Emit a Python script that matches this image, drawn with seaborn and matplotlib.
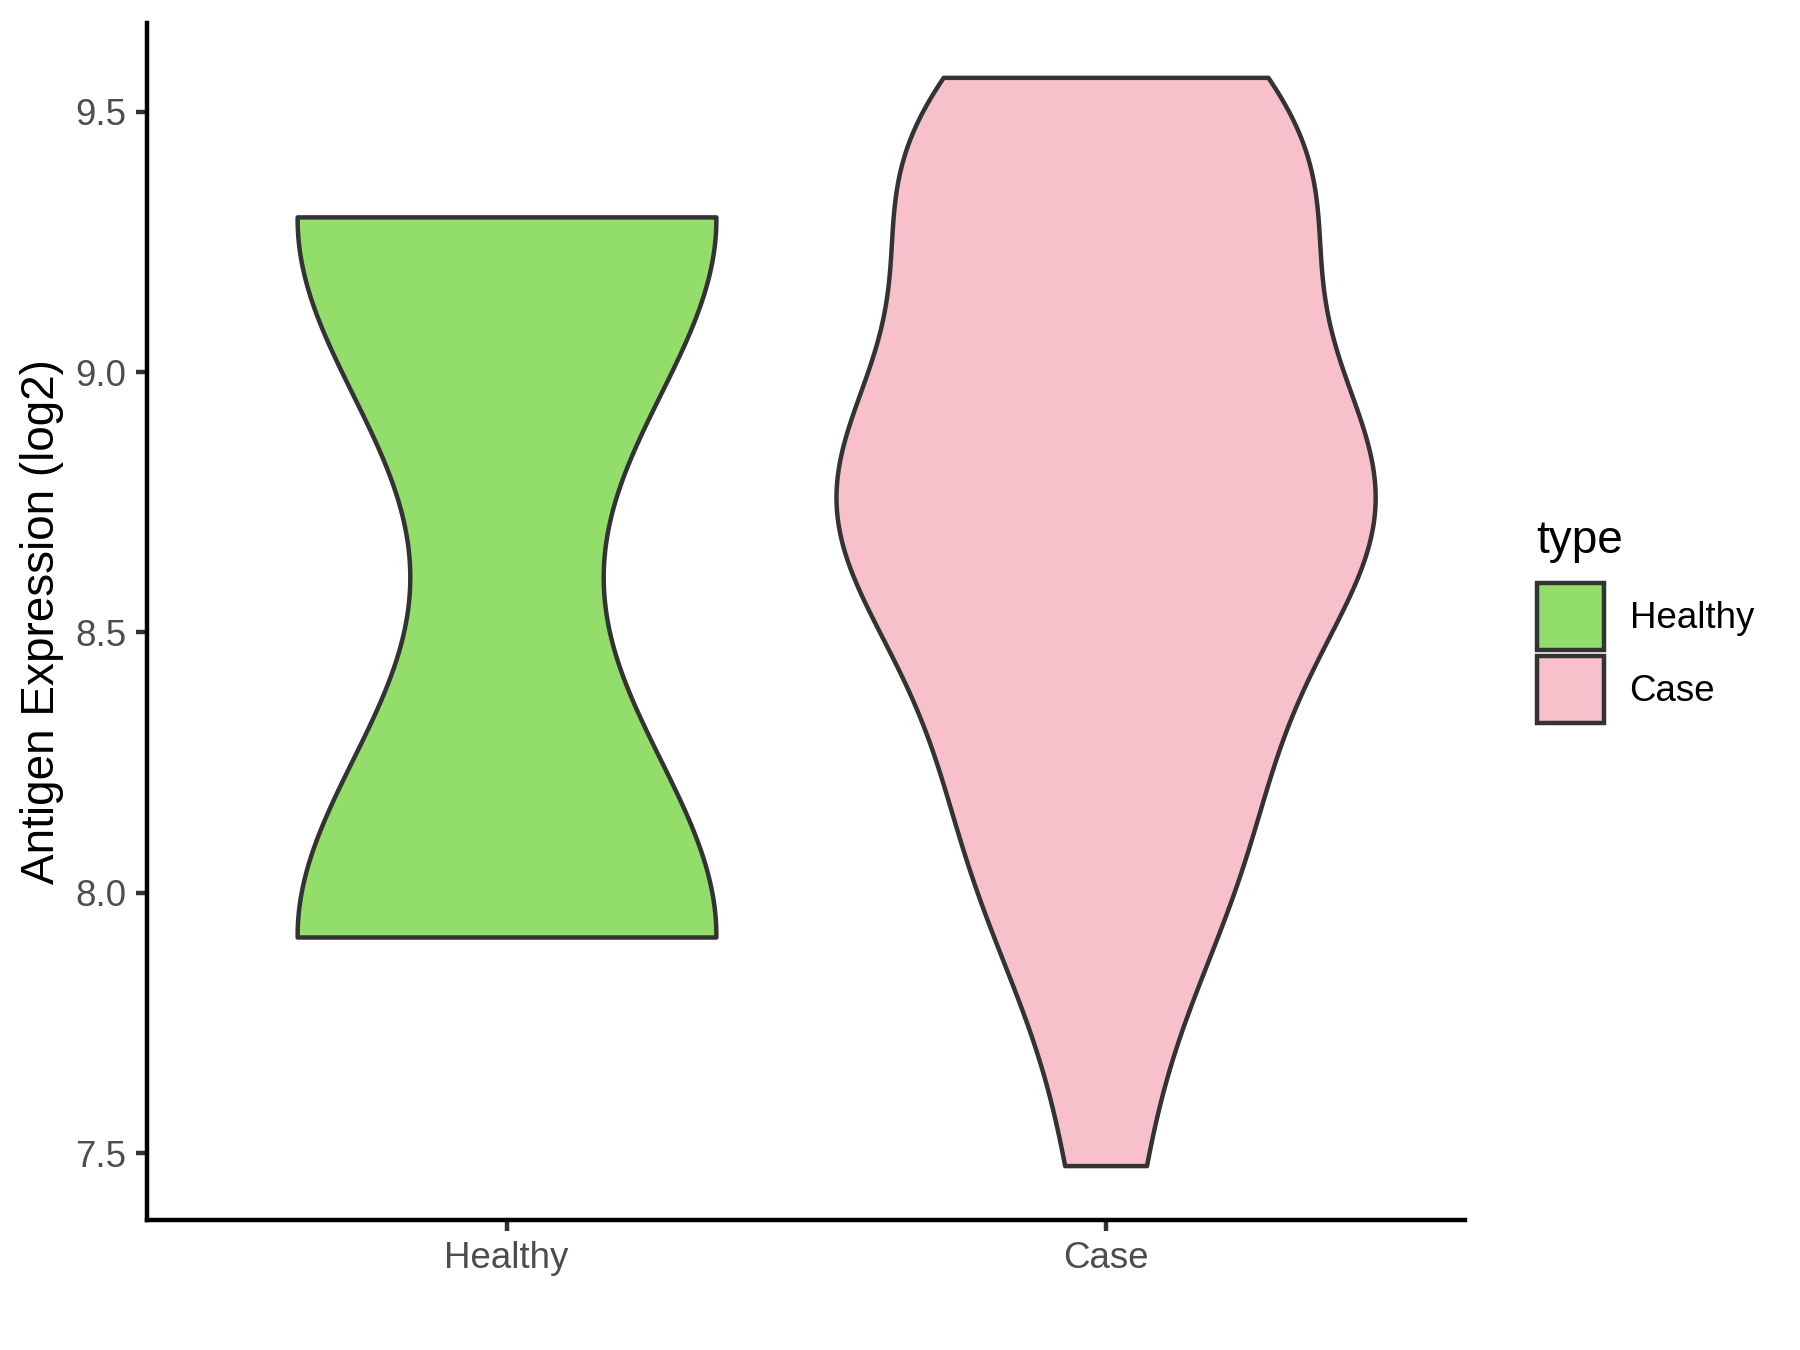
import numpy as np
import pandas as pd
import matplotlib
matplotlib.use("Agg")
import matplotlib.pyplot as plt
from matplotlib.patches import Patch
import seaborn as sns

# values
groups = ["Healthy", "Case"]
healthy_vals = [7.915, 9.298]
case_vals = [7.476, 7.958, 7.979, 8.060, 8.273, 8.283, 8.458, 8.649, 8.668,
             8.724, 8.740, 8.768, 8.792, 8.862, 8.873, 8.928, 9.297, 9.369,
             9.404, 9.407, 9.428, 9.431, 9.566]
palette = {"Healthy": "#93DD6A", "Case": "#F7C0CB"}
yticks = [7.5, 8.0, 8.5, 9.0, 9.5]

df = pd.DataFrame({
    "type": ["Healthy"] * len(healthy_vals) + ["Case"] * len(case_vals),
    "expr": healthy_vals + case_vals,
})


def nrd0(kde):
    # R's bw.nrd0, returned as a factor of the sample sd
    x = np.asarray(kde.dataset).ravel()
    sd = x.std(ddof=1)
    q75, q25 = np.quantile(x, [0.75, 0.25])
    lo = min(sd, (q75 - q25) / 1.34) or sd
    return 0.9 * lo * len(x) ** -0.2 / sd


sns.set_style("ticks")
plt.rcParams["font.family"] = ["Liberation Sans", "DejaVu Sans"]

fig = plt.figure(figsize=(6, 4.5), dpi=300)
ax = fig.add_axes([0.0817, 0.0963, 0.8139 - 0.0817, 0.983 - 0.0963])

sns.violinplot(data=df, x="type", y="expr", hue="type", order=groups,
               hue_order=groups, palette=palette, saturation=1, cut=0,
               inner=None, width=0.9, density_norm="area", common_norm=True,
               bw_method=nrd0, gridsize=512, linewidth=1.07,
               linecolor="#333333", legend=False, ax=ax)

lo, hi = df["expr"].min(), df["expr"].max()
pad = 0.05 * (hi - lo)
ax.set_ylim(lo - pad, hi + pad)
ax.set_xlim(-0.6, 1.6)
ax.set_yticks(yticks)
ax.set_yticklabels([f"{v:.1f}" for v in yticks])

ax.set_xlabel("")
ax.set_ylabel("Antigen Expression (log2)", fontsize=11, color="black", labelpad=2.6)
sns.despine(ax=ax)
for s in ["left", "bottom"]:
    ax.spines[s].set_linewidth(1.07)
    ax.spines[s].set_color("black")
ax.tick_params(axis="both", length=2.75, width=1.07, color="#333333",
               labelsize=8.8, labelcolor="#4D4D4D", pad=2.2)

# legend on the right, ggplot style
handles = [Patch(facecolor=palette[g], edgecolor="#333333", linewidth=1.07, label=g)
           for g in groups]
fig.legend(handles=handles, loc="center left",
           bbox_to_anchor=(0.854, 0.5163), frameon=False, fontsize=8.8,
           labelcolor="black", handlelength=1.82, handleheight=2.42,
           labelspacing=0.17, handletextpad=0.7, borderpad=0, borderaxespad=0)
fig.text(0.8535, 0.5904, "type", fontsize=11, color="black", ha="left", va="baseline")

fig.savefig("out.png", dpi=300)
